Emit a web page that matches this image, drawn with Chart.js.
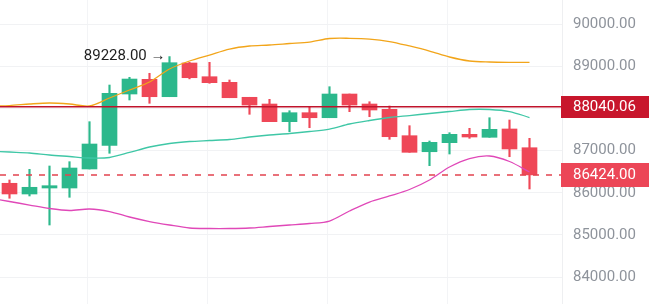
<!DOCTYPE html>
<html><head><meta charset="utf-8">
<script src="https://cdn.jsdelivr.net/npm/chart.js@4/dist/chart.umd.min.js"></script>
<style>html,body{margin:0;padding:0;background:#fff;overflow:hidden}canvas{display:block}</style>
</head><body><canvas id="c" width="649" height="304"></canvas>
<script>
// ---- data ----
const candleIdx = [0,1,2,3,4,5,6,7,8,9,10,11,12,13,14,15,16,17,18,19,20,21,22,23,24,25,26];
const opens  = [86225,85971,86113,86113,86564,87120,88341,88689,88277,89076,88751,88618,88263,88104,87685,87898,87779,88341,88104,87978,87353,86973,87187,87386,87315,87512,87068];
const highs  = [86303,86556,86635,86737,87685,88554,88737,88832,89228,89090,89092,88673,88263,88215,87945,88040,88514,88341,88158,88057,87590,87227,87424,87528,87779,87725,87291];
const lows   = [85870,85924,85236,85893,86564,86936,88199,88121,88277,88700,88595,88253,87860,87685,87448,87542,87779,87922,87803,87267,86959,86642,86919,87291,87315,86855,86090];
const closes = [85972,86130,86168,86587,87156,88358,88696,88277,89083,88727,88609,88253,88080,87685,87898,87779,88341,88080,87962,87329,86959,87196,87386,87322,87504,87038,86424];

const bandIdx  = [-1,0,1,2,3,4,5,6,7,8,9,10,11,12,13,14,15,16,17,18,19,20,21,22,23,24,25,26];
const bbUpper  = [88057,88068,88104,88128,88104,88057,88246,88436,88625,88933,89123,89265,89407,89479,89502,89538,89573,89656,89661,89644,89585,89479,89360,89218,89123,89099,89092,89092];
const bbMiddle = [86990,86966,86943,86895,86860,86824,86836,86955,87085,87168,87215,87239,87263,87322,87369,87405,87452,87511,87630,87713,87784,87831,87879,87926,87974,87974,87926,87784];
const bbLower  = [85876,85793,85710,85627,85580,85615,85556,85426,85319,85236,85165,85153,85153,85165,85201,85236,85272,85331,85568,85781,85924,86078,86303,86611,86812,86872,86741,86492];

const yTickValues = [84000,85000,86000,87000,88000,89000,90000];
const refPrice = 88040.06;
const lastPrice = 86424.00;
const peakPrice = 89228.00;
const peakIdx = 8;

// ---- styling ----
const UP = '#2cb88c', DOWN = '#ef4757';
const candleColors = candleIdx.map((_, i) => closes[i] >= opens[i] ? UP : DOWN);
const bodies = candleIdx.map((x, i) => ({x, y: [Math.min(opens[i], closes[i]), Math.max(opens[i], closes[i])]}));
const wicks  = candleIdx.map((x, i) => ({x, y: [lows[i], highs[i]]}));
const band = arr => bandIdx.map((x, i) => ({x, y: arr[i]}));

Chart.defaults.font.family = 'Roboto';

const overlay = {
  id: 'overlay',
  afterDatasetsDraw(chart) {
    const {ctx, chartArea: a, scales: {x, y}} = chart;
    ctx.save();
    const yr = y.getPixelForValue(refPrice);
    ctx.strokeStyle = '#c0142c'; ctx.lineWidth = 1.5;
    ctx.beginPath(); ctx.moveTo(a.left, yr); ctx.lineTo(a.right, yr); ctx.stroke();
    const yl = y.getPixelForValue(lastPrice);
    ctx.strokeStyle = '#e2434f'; ctx.setLineDash([6, 7]); ctx.lineWidth = 1.5;
    ctx.beginPath(); ctx.moveTo(a.left, yl); ctx.lineTo(a.right + 10, yl); ctx.stroke();
    ctx.setLineDash([]);
    ctx.fillStyle = '#1e1e1e'; ctx.font = '15px Roboto';
    ctx.textAlign = 'right'; ctx.textBaseline = 'middle';
    ctx.fillText(peakPrice.toFixed(2) + ' \u2192', x.getPixelForValue(peakIdx) - 4, y.getPixelForValue(peakPrice));
    ctx.restore();
  },
  afterDraw(chart) {
    const {ctx, chartArea: a, scales: {y}, width} = chart;
    ctx.save();
    const box = (val, color, h) => {
      const py = y.getPixelForValue(val);
      ctx.fillStyle = color;
      ctx.fillRect(a.right - 1, Math.round(py - h / 2), width - a.right + 1, h);
      ctx.fillStyle = '#ffffff'; ctx.font = '15px Roboto';
      ctx.textAlign = 'left'; ctx.textBaseline = 'middle';
      ctx.fillText(val.toFixed(2), a.right + 11, py + 0.5);
    };
    box(refPrice, '#c8162c', 22);
    box(lastPrice, '#ec4657', 24);
    ctx.restore();
  }
};

new Chart(document.getElementById('c'), {
  type: 'bar',
  data: {
    datasets: [
      {type: 'line', data: band(bbUpper), borderColor: '#f2a51a', borderWidth: 1.3, pointRadius: 0, tension: 0.3, order: 0},
      {type: 'line', data: band(bbMiddle), borderColor: '#3fc7a6', borderWidth: 1.3, pointRadius: 0, tension: 0.3, order: 0},
      {type: 'line', data: band(bbLower), borderColor: '#e048b8', borderWidth: 1.3, pointRadius: 0, tension: 0.3, order: 0},
      {data: bodies, backgroundColor: candleColors, barThickness: 15, grouped: false, borderWidth: 0, borderSkipped: false, order: 1},
      {data: wicks, backgroundColor: candleColors, barThickness: 1.5, grouped: false, borderWidth: 0, borderSkipped: false, order: 2}
    ]
  },
  options: {
    responsive: false, animation: false, devicePixelRatio: 1,
    layout: {padding: 0},
    plugins: {legend: {display: false}, tooltip: {enabled: false}},
    scales: {
      x: {
        type: 'linear', min: -0.475, max: 27.625, offset: false,
        ticks: {display: false},
        grid: {color: '#f3f4f6', drawTicks: false, offset: false},
        border: {display: false},
        afterBuildTicks: s => { s.ticks = [3.9, 9.9, 15.9, 21.9].map(v => ({value: v})); },
        afterFit: s => { s.height = 0; s.paddingLeft = 0; s.paddingRight = 0; }
      },
      y: {
        position: 'right', min: 83364, max: 90569,
        grid: {color: '#f1f2f4', drawTicks: false},
        border: {color: '#eeeff1'},
        ticks: {color: '#8e939b', font: {size: 15}, padding: 11, callback: v => Number(v).toFixed(2)},
        afterBuildTicks: s => { s.ticks = yTickValues.map(v => ({value: v})); },
        afterFit: s => { s.width = 87; s.paddingTop = 0; s.paddingBottom = 0; }
      }
    }
  },
  plugins: [overlay]
});
</script>
</body></html>
